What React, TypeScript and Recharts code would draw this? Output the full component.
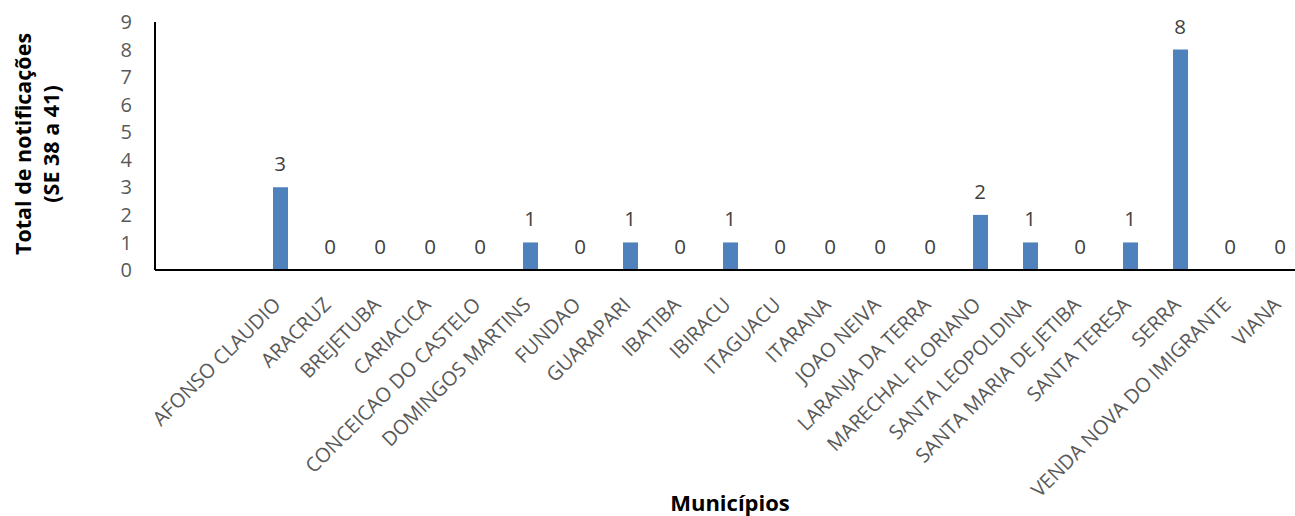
import { ComposedChart, Bar, Line, XAxis, YAxis, LabelList, Label } from "recharts";

// Notificações por município (SE 38 a 41)
const municipios = [
  "AFONSO CLAUDIO",
  "ARACRUZ",
  "BREJETUBA",
  "CARIACICA",
  "CONCEICAO DO CASTELO",
  "DOMINGOS MARTINS",
  "FUNDAO",
  "GUARAPARI",
  "IBATIBA",
  "IBIRACU",
  "ITAGUACU",
  "ITARANA",
  "JOAO NEIVA",
  "LARANJA DA TERRA",
  "MARECHAL FLORIANO",
  "SANTA LEOPOLDINA",
  "SANTA MARIA DE JETIBA",
  "SANTA TERESA",
  "SERRA",
  "VENDA NOVA DO IMIGRANTE",
  "VIANA",
];
const notificacoes = [3, 0, 0, 0, 0, 1, 0, 1, 0, 1, 0, 0, 0, 0, 2, 1, 0, 1, 8, 0, 0];
const yTicks = [0, 1, 2, 3, 4, 5, 6, 7, 8, 9];

const data = municipios.map((municipio, i) => ({ municipio, total: notificacoes[i] }));

const textGrey = "#595959";

function MunicipioTick(props: any) {
  const { x, y, payload } = props;
  return (
    <g transform={`translate(${x + 2},${y + 36})`}>
      <text textAnchor="end" transform="rotate(-45)" fill={textGrey} fontSize={20}>
        {payload.value}
      </text>
    </g>
  );
}

function TituloY(props: any) {
  const vb = props.viewBox || { x: 0, y: 22, width: 155, height: 248 };
  const cy = vb.y + vb.height / 2 - 2;
  return (
    <g fontWeight={700} fontSize={21.5} fill="#000">
      <text x={23} y={cy} dy="0.35em" textAnchor="middle" transform={`rotate(-90, 23, ${cy})`}>
        Total de notificações
      </text>
      <text x={51} y={cy} dy="0.35em" textAnchor="middle" transform={`rotate(-90, 51, ${cy})`}>
        (SE 38 a 41)
      </text>
    </g>
  );
}

function TituloX(props: any) {
  const vb = props.viewBox || { x: 155, y: 270, width: 1150, height: 246 };
  return (
    <text
      x={vb.x + vb.width / 2}
      y={vb.y + vb.height - 5}
      textAnchor="middle"
      fontWeight={700}
      fontSize={22}
      fill="#000"
    >
      Municípios
    </text>
  );
}

export default function App() {
  return (
    <div
      style={{
        position: "fixed",
        left: 0,
        top: 0,
        width: 1295,
        height: 516,
        overflow: "hidden",
        background: "#fff",
        fontFamily: "'Open Sans', sans-serif",
      }}
    >
      <ComposedChart
        width={1305}
        height={516}
        data={data}
        margin={{ top: 22, right: 0, left: 0, bottom: 0 }}
      >
        <XAxis
          dataKey="municipio"
          interval={0}
          height={246}
          padding={{ left: 100, right: 0 }}
          tickLine={false}
          tickSize={0}
          tickMargin={0}
          tick={<MunicipioTick />}
          axisLine={{ stroke: "#000", strokeWidth: 2 }}
        >
          <Label content={TituloX} />
        </XAxis>
        <YAxis
          width={155}
          domain={[0, 9]}
          ticks={yTicks}
          interval={0}
          tickLine={false}
          tickSize={0}
          tickMargin={23}
          tick={{ fill: textGrey, fontSize: 20 }}
          axisLine={{ stroke: "#000", strokeWidth: 2 }}
        >
          <Label content={TituloY} />
        </YAxis>
        <Bar dataKey="total" fill="#4F81BD" barSize={15} isAnimationActive={false} />
        {/* invisible series carrying the data labels, so zeros get one too */}
        <Line
          dataKey="total"
          stroke="none"
          dot={false}
          activeDot={false}
          legendType="none"
          isAnimationActive={false}
        >
          <LabelList dataKey="total" position="top" offset={16} fill="#404040" fontSize={20.5} />
        </Line>
      </ComposedChart>
    </div>
  );
}
